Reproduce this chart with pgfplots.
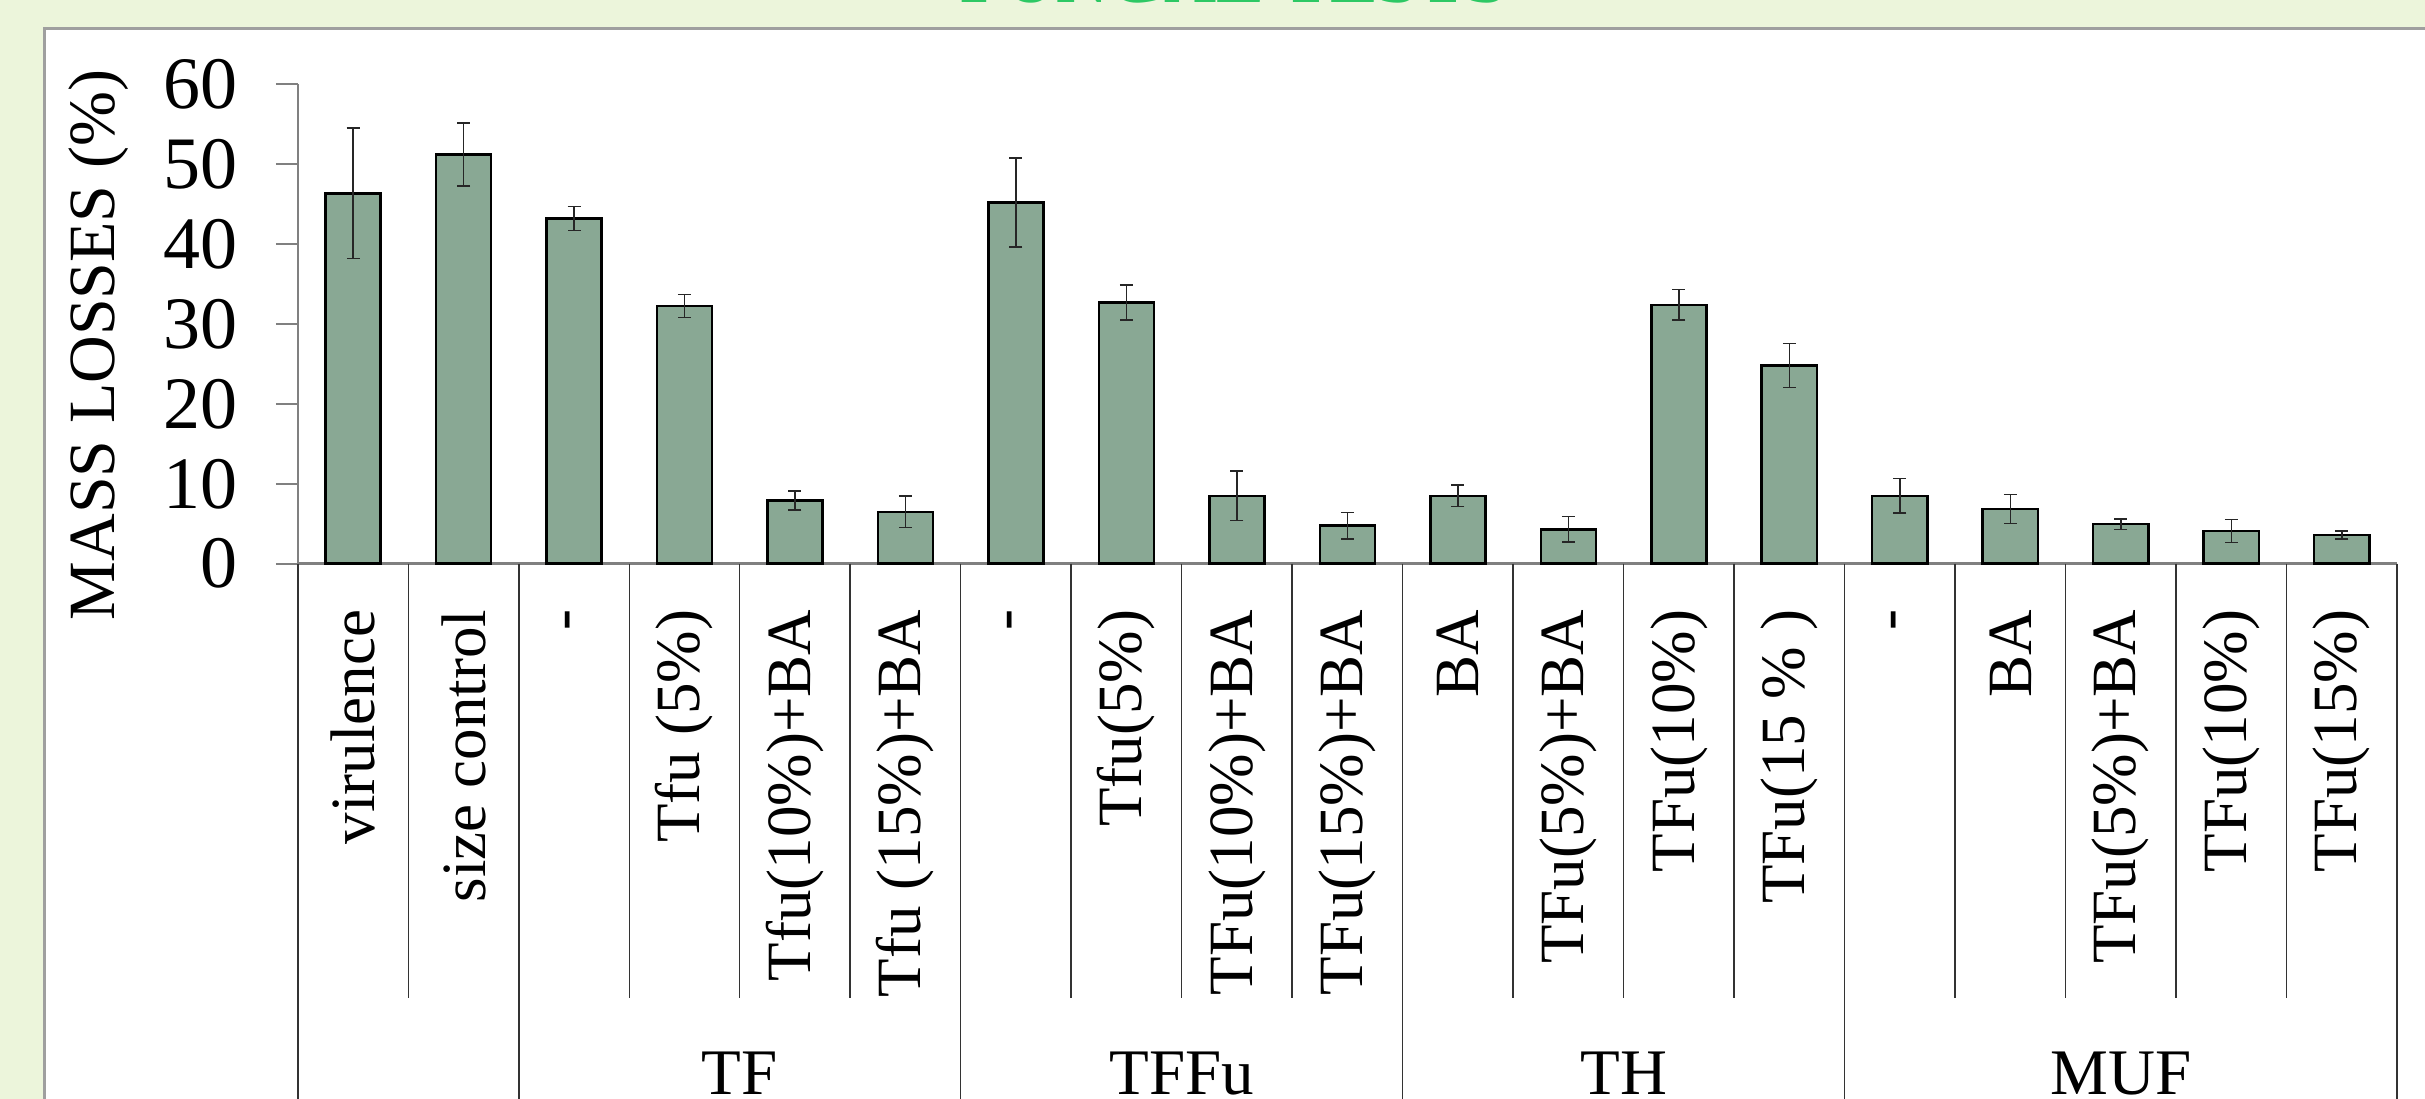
\documentclass[border=0pt]{standalone}
\usepackage{fontspec}
\setmainfont{Liberation Serif}
\usepackage{pgfplots}
\pgfplotsset{compat=1.18}
\usepackage{pgfplotstable}
\definecolor{bg}{RGB}{236,245,219}
\definecolor{barfill}{RGB}{137,168,148}
\definecolor{titlegreen}{RGB}{45,200,100}
\definecolor{axgray}{RGB}{128,128,128}
\pgfplotstableread{
x y e
0 46.35 8.15
1 51.2 3.95
2 43.2 1.5
3 32.25 1.45
4 7.9 1.2
5 6.5 1.95
6 45.2 5.55
7 32.7 2.2
8 8.5 3.1
9 4.75 1.65
10 8.5 1.35
11 4.3 1.6
12 32.4 1.9
13 24.8 2.75
14 8.5 2.15
15 6.85 1.8
16 4.95 0.65
17 4.1 1.45
18 3.6 0.5
}\datatable
\begin{document}
\begin{tikzpicture}[x=1pt,y=1pt]
\useasboundingbox (0,0) rectangle (2425,1099);
\clip (0,0) rectangle (2425,1099);
\fill[bg] (0,0) rectangle (2425,1099);
\fill[white, draw=gray!75, line width=3pt] (44,-10) rectangle (2440,1070);
\node[anchor=base, font=\fontsize{72}{80}\selectfont\bfseries, text=titlegreen] at (1234,1096) {FUNGAL TESTS};
\begin{axis}[
  at={(297.8pt,535.3pt)}, anchor=south west,
  scale only axis, width=2099.2pt, height=479.5pt,
  xmin=-0.5, xmax=18.5, ymin=0, ymax=60,
  axis x line*=bottom, axis y line*=left,
  axis line style={axgray, line width=2.5pt},
  clip=false,
  ytick={0,10,...,60},
  tick align=outside,
  major tick length=22pt,
  y tick style={axgray, line width=2pt},
  x tick style={draw=none},
  xtick={0,...,18},
  xticklabels={virulence, size control, -, Tfu (5\%), Tfu(10\%)+BA, Tfu (15\%)+BA, -, Tfu(5\%), TFu(10\%)+BA, TFu(15\%)+BA, BA, TFu(5\%)+BA, TFu(10\%), TFu(15 \% ), -, BA, TFu(5\%)+BA, TFu(10\%), TFu(15\%)},
  xticklabel style={rotate=90, anchor=east, inner sep=0pt, font=\fontsize{63}{70}\selectfont},
  xticklabel shift=24pt,
  yticklabel style={inner sep=0pt, font=\fontsize{74}{80}\selectfont},
  yticklabel shift=38pt,
  /pgf/number format/assume math mode=true,
]
\addplot[ybar, bar width=55.2pt, fill=barfill, draw=black, line width=2.5pt,
  error bars/.cd, y dir=both, y explicit,
  error bar style={line width=1.5pt, black!85},
  error mark options={rotate=90, mark size=6.5pt, line width=1.5pt, black!85}]
  table[x=x, y=y, y error=e] {\datatable};
\pgfplotsinvokeforeach{0.5,2.5,3.5,4.5,6.5,7.5,8.5,10.5,11.5,12.5,14.5,15.5,16.5,17.5}{
  \draw[black!80, line width=1.5pt] (axis cs:#1,0) -- ++(0pt,-434pt);
}
\pgfplotsinvokeforeach{-0.5,1.5,5.5,9.5,13.5,18.5}{
  \draw[black!80, line width=1.5pt] (axis cs:#1,0) -- ++(0pt,-600pt);
}
\end{axis}
\node[rotate=90, font=\fontsize{66}{72}\selectfont] at (99,754) {MASS LOSSES (\%)};
\node[anchor=base, font=\fontsize{65}{72}\selectfont] at (739.7,4) {TF};
\node[anchor=base, font=\fontsize{65}{72}\selectfont] at (1181.7,4) {TFFu};
\node[anchor=base, font=\fontsize{65}{72}\selectfont] at (1623.6,4) {TH};
\node[anchor=base, font=\fontsize{65}{72}\selectfont] at (2120.8,4) {MUF};
\end{tikzpicture}
\end{document}
